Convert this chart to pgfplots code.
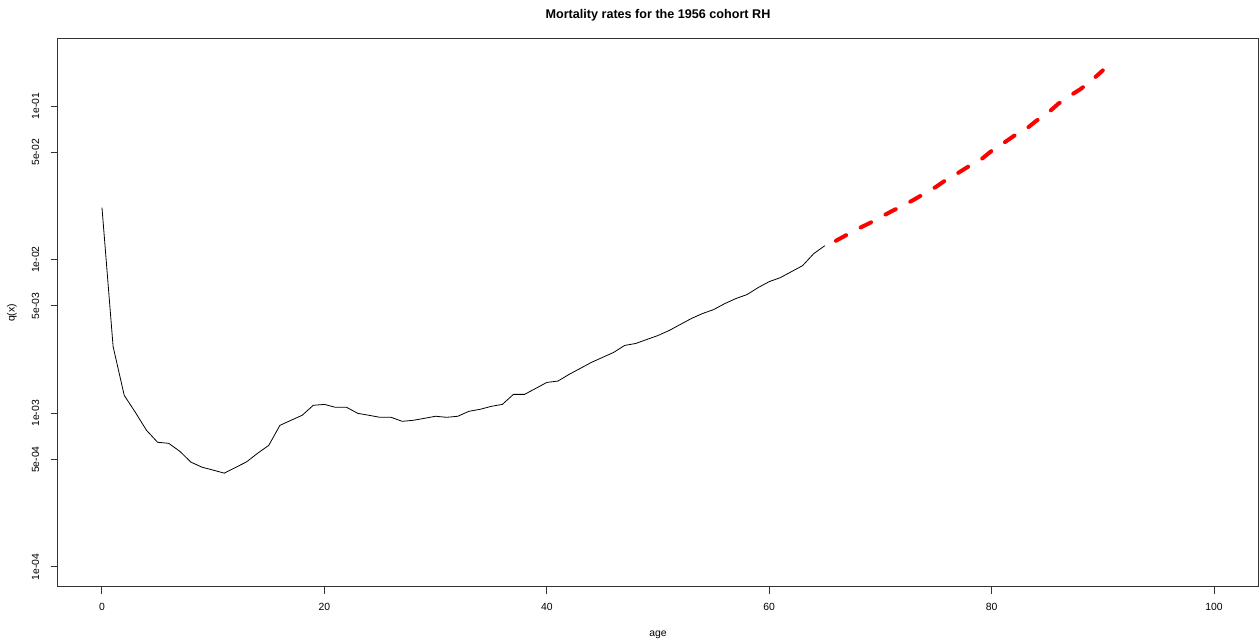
\documentclass[border=0pt]{standalone}
\usepackage{fontspec}
\setmainfont{Liberation Sans}
\usepackage{pgfplots}
\pgfplotsset{compat=1.18}
\begin{document}
\begin{tikzpicture}
\begin{axis}[
  scale only axis, width=600.5pt, height=274pt,
  ymode=log,
  xmin=-4, xmax=104, ymin=7.41e-5, ymax=0.273,
  xtick={0,20,40,60,80,100},
  ytick={1e-4,5e-4,1e-3,5e-3,1e-2,5e-2,1e-1},
  yticklabels={1e-04,5e-04,1e-03,5e-03,1e-02,5e-02,1e-01},
  yminorticks=false,
  xtick pos=bottom, ytick pos=left,
  tick align=outside, major tick length=3.5pt,
  axis line style={line width=0.5pt, black!80},
  every tick/.style={line width=0.5pt, black!80},
  /pgf/number format/assume math mode=true,
  tick label style={font=\fontsize{5.2}{6}\selectfont, inner sep=0pt},
  xticklabel style={anchor=north},
  xticklabel shift=4.6pt,
  yticklabel style={rotate=90, anchor=south},
  yticklabel shift=5.4pt,
  xlabel={age}, ylabel={q(x)},
  xlabel style={font=\fontsize{5.2}{6}\selectfont, at={(axis description cs:0.5,-0.0865)}, anchor=center},
  ylabel style={font=\fontsize{5.2}{6}\selectfont, at={(axis description cs:-0.0379,0.5)}, anchor=center},
  every axis title shift=0pt,
  title={Mortality rates for the 1956 cohort RH},
  title style={font=\bfseries\fontsize{6.3}{7.5}\selectfont, at={(axis description cs:0.5,1.0438)}, anchor=center},
]
\addplot[black, line width=0.4pt] coordinates {
(0,0.02178) (1,0.00272) (2,0.001309) (3,0.001015) (4,0.000776) (5,0.000648)
(6,0.000638) (7,0.000566) (8,0.000481) (9,0.000446) (10,0.000427) (11,0.000408)
(12,0.000444) (13,0.000483) (14,0.000550) (15,0.000619) (16,0.000835) (17,0.000901)
(18,0.000971) (19,0.001128) (20,0.001143) (21,0.001094) (22,0.001094) (23,0.001000)
(24,0.000971) (25,0.000942) (26,0.000942) (27,0.000887) (28,0.000901) (29,0.000928)
(30,0.000957) (31,0.000942) (32,0.000957) (33,0.001031) (34,0.001062) (35,0.001110)
(36,0.001143) (37,0.001328) (38,0.001328) (39,0.001452) (40,0.001589) (41,0.001622)
(42,0.001791) (43,0.001959) (44,0.002143) (45,0.002311) (46,0.002489) (47,0.002766)
(48,0.002849) (49,0.003025) (50,0.003210) (51,0.003459) (52,0.003785) (53,0.004140)
(54,0.004461) (55,0.004732) (56,0.005176) (57,0.005583) (58,0.005926) (59,0.006577)
(60,0.007197) (61,0.007638) (62,0.008356) (63,0.009141) (64,0.01094) (65,0.01233)
};
\addplot[red, line width=2pt, line cap=round, dash pattern=on 5.8pt off 8.2pt] coordinates {
(66,0.01328) (67,0.01453) (68,0.01590) (69,0.01726) (70,0.01888) (71,0.02065)
(72,0.02244) (73,0.02454) (74,0.02704) (75,0.02979) (76,0.03342) (77,0.03672)
(78,0.04076) (79,0.04459) (80,0.05105) (81,0.05691) (82,0.06387) (83,0.06987)
(84,0.07998) (85,0.08940) (86,0.1035) (87,0.1161) (88,0.1289) (89,0.1468) (90,0.1706)
};
\coordinate (bl) at (rel axis cs:-0.04788,-0.10036);
\coordinate (tr) at (rel axis cs:1.00125,1.07117);
\end{axis}
\pgfresetboundingbox
\path[use as bounding box] (bl) rectangle (tr);
\end{tikzpicture}
\end{document}
